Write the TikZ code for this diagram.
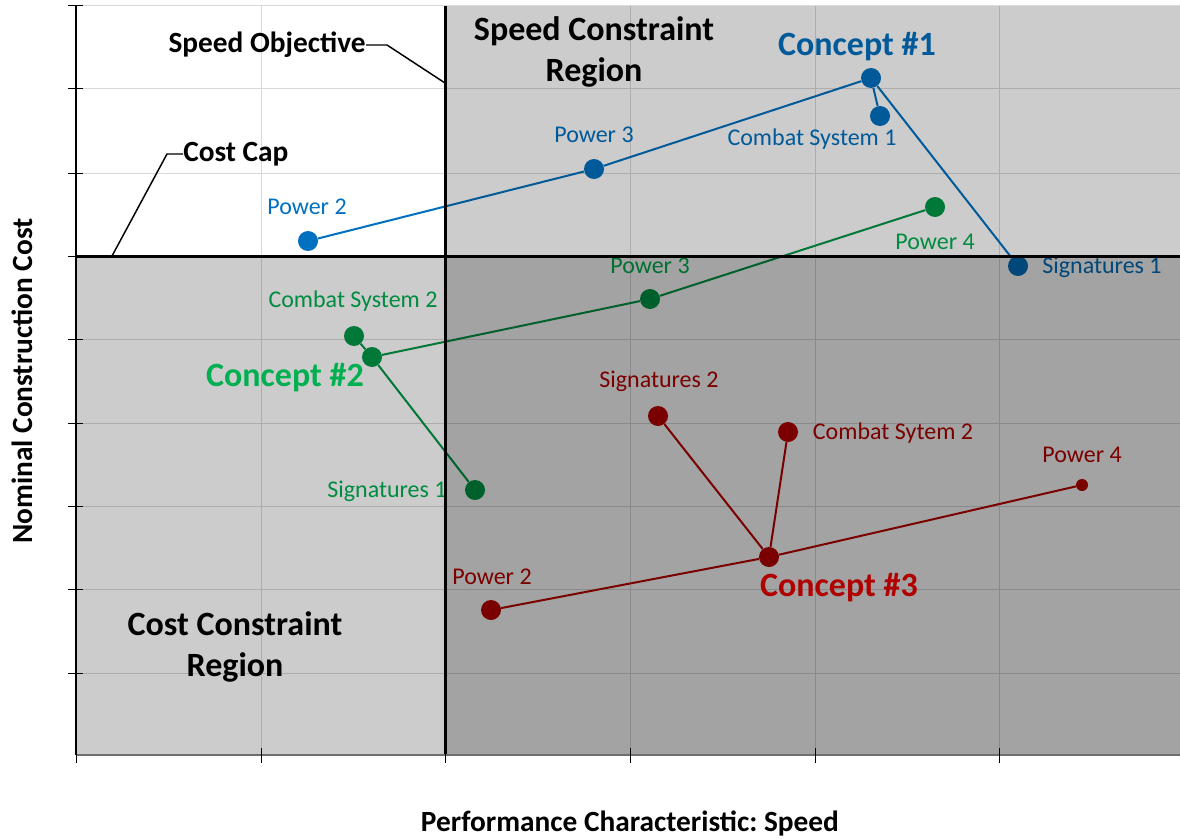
\documentclass[tikz,border=0pt]{standalone}
\usepackage{fontspec}
\setmainfont{Carlito}
\usepackage{tikz}
\frenchspacing

\definecolor{gridgray}{RGB}{217,217,217}
\definecolor{axisgray}{RGB}{110,110,110}
\definecolor{cblue}{RGB}{0,112,192}
\definecolor{cgreen}{RGB}{0,176,80}
\definecolor{cgreendot}{RGB}{0,150,70}
\definecolor{cred}{RGB}{192,0,0}
\definecolor{credtitle}{RGB}{176,0,0}

\tikzset{
  dotnode/.style={circle, inner sep=0pt, minimum size=15pt},
  bluedot/.style={dotnode, fill=cblue},
  greendot/.style={dotnode, fill=cgreendot},
  reddot/.style={dotnode, fill=cred},
  dataline/.style={line width=1.5},
  smalllbl/.style={inner sep=0pt, font=\fontsize{18}{21.6}\selectfont},
  boldlbl/.style={inner sep=0pt, font=\fontsize{22}{26}\selectfont\bfseries},
  conceptlbl/.style={inner sep=0pt, font=\fontsize{25.5}{30.75}\selectfont\bfseries},
  leader/.style={line width=1.1, black}
}

\begin{document}
\begin{tikzpicture}[x=0.75pt,y=0.75pt,yscale=-1,xscale=1]
%set diagram left start at 0, and has height of 838
\useasboundingbox (0,0) rectangle (1180,838);
\fill [white] (0,0) rectangle (1180,838);

%Grid: horizontal lines
\draw [color=gridgray, line width=0.75] (76,6) -- (1180,6) ;
\draw [color=gridgray, line width=0.75] (76,89) -- (1180,89) ;
\draw [color=gridgray, line width=0.75] (76,173) -- (1180,173) ;
\draw [color=gridgray, line width=0.75] (76,339) -- (1180,339) ;
\draw [color=gridgray, line width=0.75] (76,423) -- (1180,423) ;
\draw [color=gridgray, line width=0.75] (76,506) -- (1180,506) ;
\draw [color=gridgray, line width=0.75] (76,589) -- (1180,589) ;
\draw [color=gridgray, line width=0.75] (76,673) -- (1180,673) ;
%Grid: vertical lines
\draw [color=gridgray, line width=0.75] (261,6) -- (261,755) ;
\draw [color=gridgray, line width=0.75] (630,6) -- (630,755) ;
\draw [color=gridgray, line width=0.75] (815,6) -- (815,755) ;
\draw [color=gridgray, line width=0.75] (999,6) -- (999,755) ;

%Concept 1 (blue)
\node [bluedot] (bpow2) at (308,241) {};
\node [bluedot] (bpow3) at (594,169) {};
\node [bluedot] (bcon1) at (871,78) {};
\node [bluedot] (bcomb1) at (880,116) {};
\node [bluedot] (bsig1) at (1018,266) {};
\draw [dataline, color=cblue] (bpow2) -- (bpow3) -- (bcon1) ;
\draw [dataline, color=cblue] (bcon1) -- (bcomb1) ;
\draw [dataline, color=cblue] (bcon1) -- (bsig1) ;
\node [smalllbl, text=cblue] (lbpow2) at (307,207) {Power 2};
\node [smalllbl, text=cblue] (lbpow3) at (594,135) {Power 3};
\node [smalllbl, text=cblue] (lbcomb1) at (812,139) {Combat System 1};
\node [smalllbl, text=cblue] (lbsig1) at (1102,267) {Signatures 1};
\node [conceptlbl, text=cblue] (lbcon1) at (857,47) {Concept \#1};

%Concept 2 (green)
\node [greendot] (gpow4) at (935,207) {};
\node [greendot] (gpow3) at (650,299) {};
\node [greendot] (gcon2) at (372,357) {};
\node [greendot] (gcomb2) at (354,336) {};
\node [greendot] (gsig1) at (475,490) {};
\draw [dataline, color=cgreendot] (gpow4) -- (gpow3) -- (gcon2) ;
\draw [dataline, color=cgreendot] (gcon2) -- (gcomb2) ;
\draw [dataline, color=cgreendot] (gcon2) -- (gsig1) ;
\node [smalllbl, text=cgreen] (lgpow4) at (935,242) {Power 4};
\node [smalllbl, text=cgreen] (lgpow3) at (650,266) {Power 3};
\node [smalllbl, text=cgreen] (lgcomb2) at (353,301) {Combat System 2};
\node [smalllbl, text=cgreen] (lgsig1) at (387,491) {Signatures 1};

%Concept 3 (red)
\node [reddot] (rpow2) at (491,610) {};
\node [reddot] (rcon3) at (769,557) {};
\node [reddot, minimum size=9pt] (rpow4) at (1082,485) {};
\node [reddot] (rsig2) at (658,416) {};
\node [reddot] (rcomb2) at (788,432) {};
\draw [dataline, color=cred] (rpow2) -- (rcon3) -- (rpow4) ;
\draw [dataline, color=cred] (rcon3) -- (rsig2) ;
\draw [dataline, color=cred] (rcon3) -- (rcomb2) ;
\node [smalllbl, text=cred] (lrsig2) at (659,381) {Signatures 2};
\node [smalllbl, text=cred] (lrcomb2) at (893,433) {Combat Sytem 2};
\node [smalllbl, text=cred] (lrpow4) at (1082,455) {Power 4};
\node [smalllbl, text=cred] (lrpow2) at (492,577) {Power 2};

%Shape: Rectangle  speed constraint region
\fill [black, fill opacity=0.2] (445,6) rectangle (1180,755) ;
%Shape: Rectangle  cost constraint region
\fill [black, fill opacity=0.2] (76,256) rectangle (1180,755) ;

%Limits
\draw [line width=2.25] (76,256) -- (1180,256) ;
\draw [line width=2.25] (445,6) -- (445,755) ;

%Axes and ticks
\draw [line width=1] (76,6) -- (76,755) ;
\draw [line width=0.75] (68,6) -- (83,6) ;
\draw [line width=0.75] (68,89) -- (83,89) ;
\draw [line width=0.75] (68,173) -- (83,173) ;
\draw [line width=0.75] (68,256) -- (83,256) ;
\draw [line width=0.75] (68,339) -- (83,339) ;
\draw [line width=0.75] (68,423) -- (83,423) ;
\draw [line width=0.75] (68,506) -- (83,506) ;
\draw [line width=0.75] (68,589) -- (83,589) ;
\draw [line width=0.75] (68,673) -- (83,673) ;
\draw [color=axisgray, line width=1.5] (76,755) -- (1180,755) ;
\draw [line width=0.75] (76,748) -- (76,763) ;
\draw [line width=0.75] (261,748) -- (261,763) ;
\draw [line width=0.75] (445,748) -- (445,763) ;
\draw [line width=0.75] (630,748) -- (630,763) ;
\draw [line width=0.75] (815,748) -- (815,763) ;
\draw [line width=0.75] (999,748) -- (999,763) ;

%Callouts
\node [boldlbl, anchor=east] (spdobj) at (366,45) {Speed Objective};
\coordinate (spdend) at (445,83);
\draw [leader] (spdobj.east) -- ++(21,0) -- (spdend) ;
\node [boldlbl, anchor=west] (costcap) at (183,154) {Cost Cap};
\coordinate (capend) at (112,256);
\draw [leader] (costcap.west) -- ++(-16,0) -- (capend) ;

%Region titles
\node [conceptlbl, align=center] (spdreg) at (594,52) {Speed Constraint\\Region};
\node [conceptlbl, align=center] (costreg) at (235,647) {Cost Constraint\\Region};
\node [conceptlbl, text=cgreen] (lgcon2) at (285,378) {Concept \#2};
\node [conceptlbl, text=credtitle] (lrcon3) at (839,588) {Concept \#3};

%Axis titles
\node [boldlbl, rotate=90] (ytitle) at (22,381) {Nominal Construction Cost};
\node [boldlbl] (xtitle) at (630,823) {Performance Characteristic: Speed};

\end{tikzpicture}
\end{document}
